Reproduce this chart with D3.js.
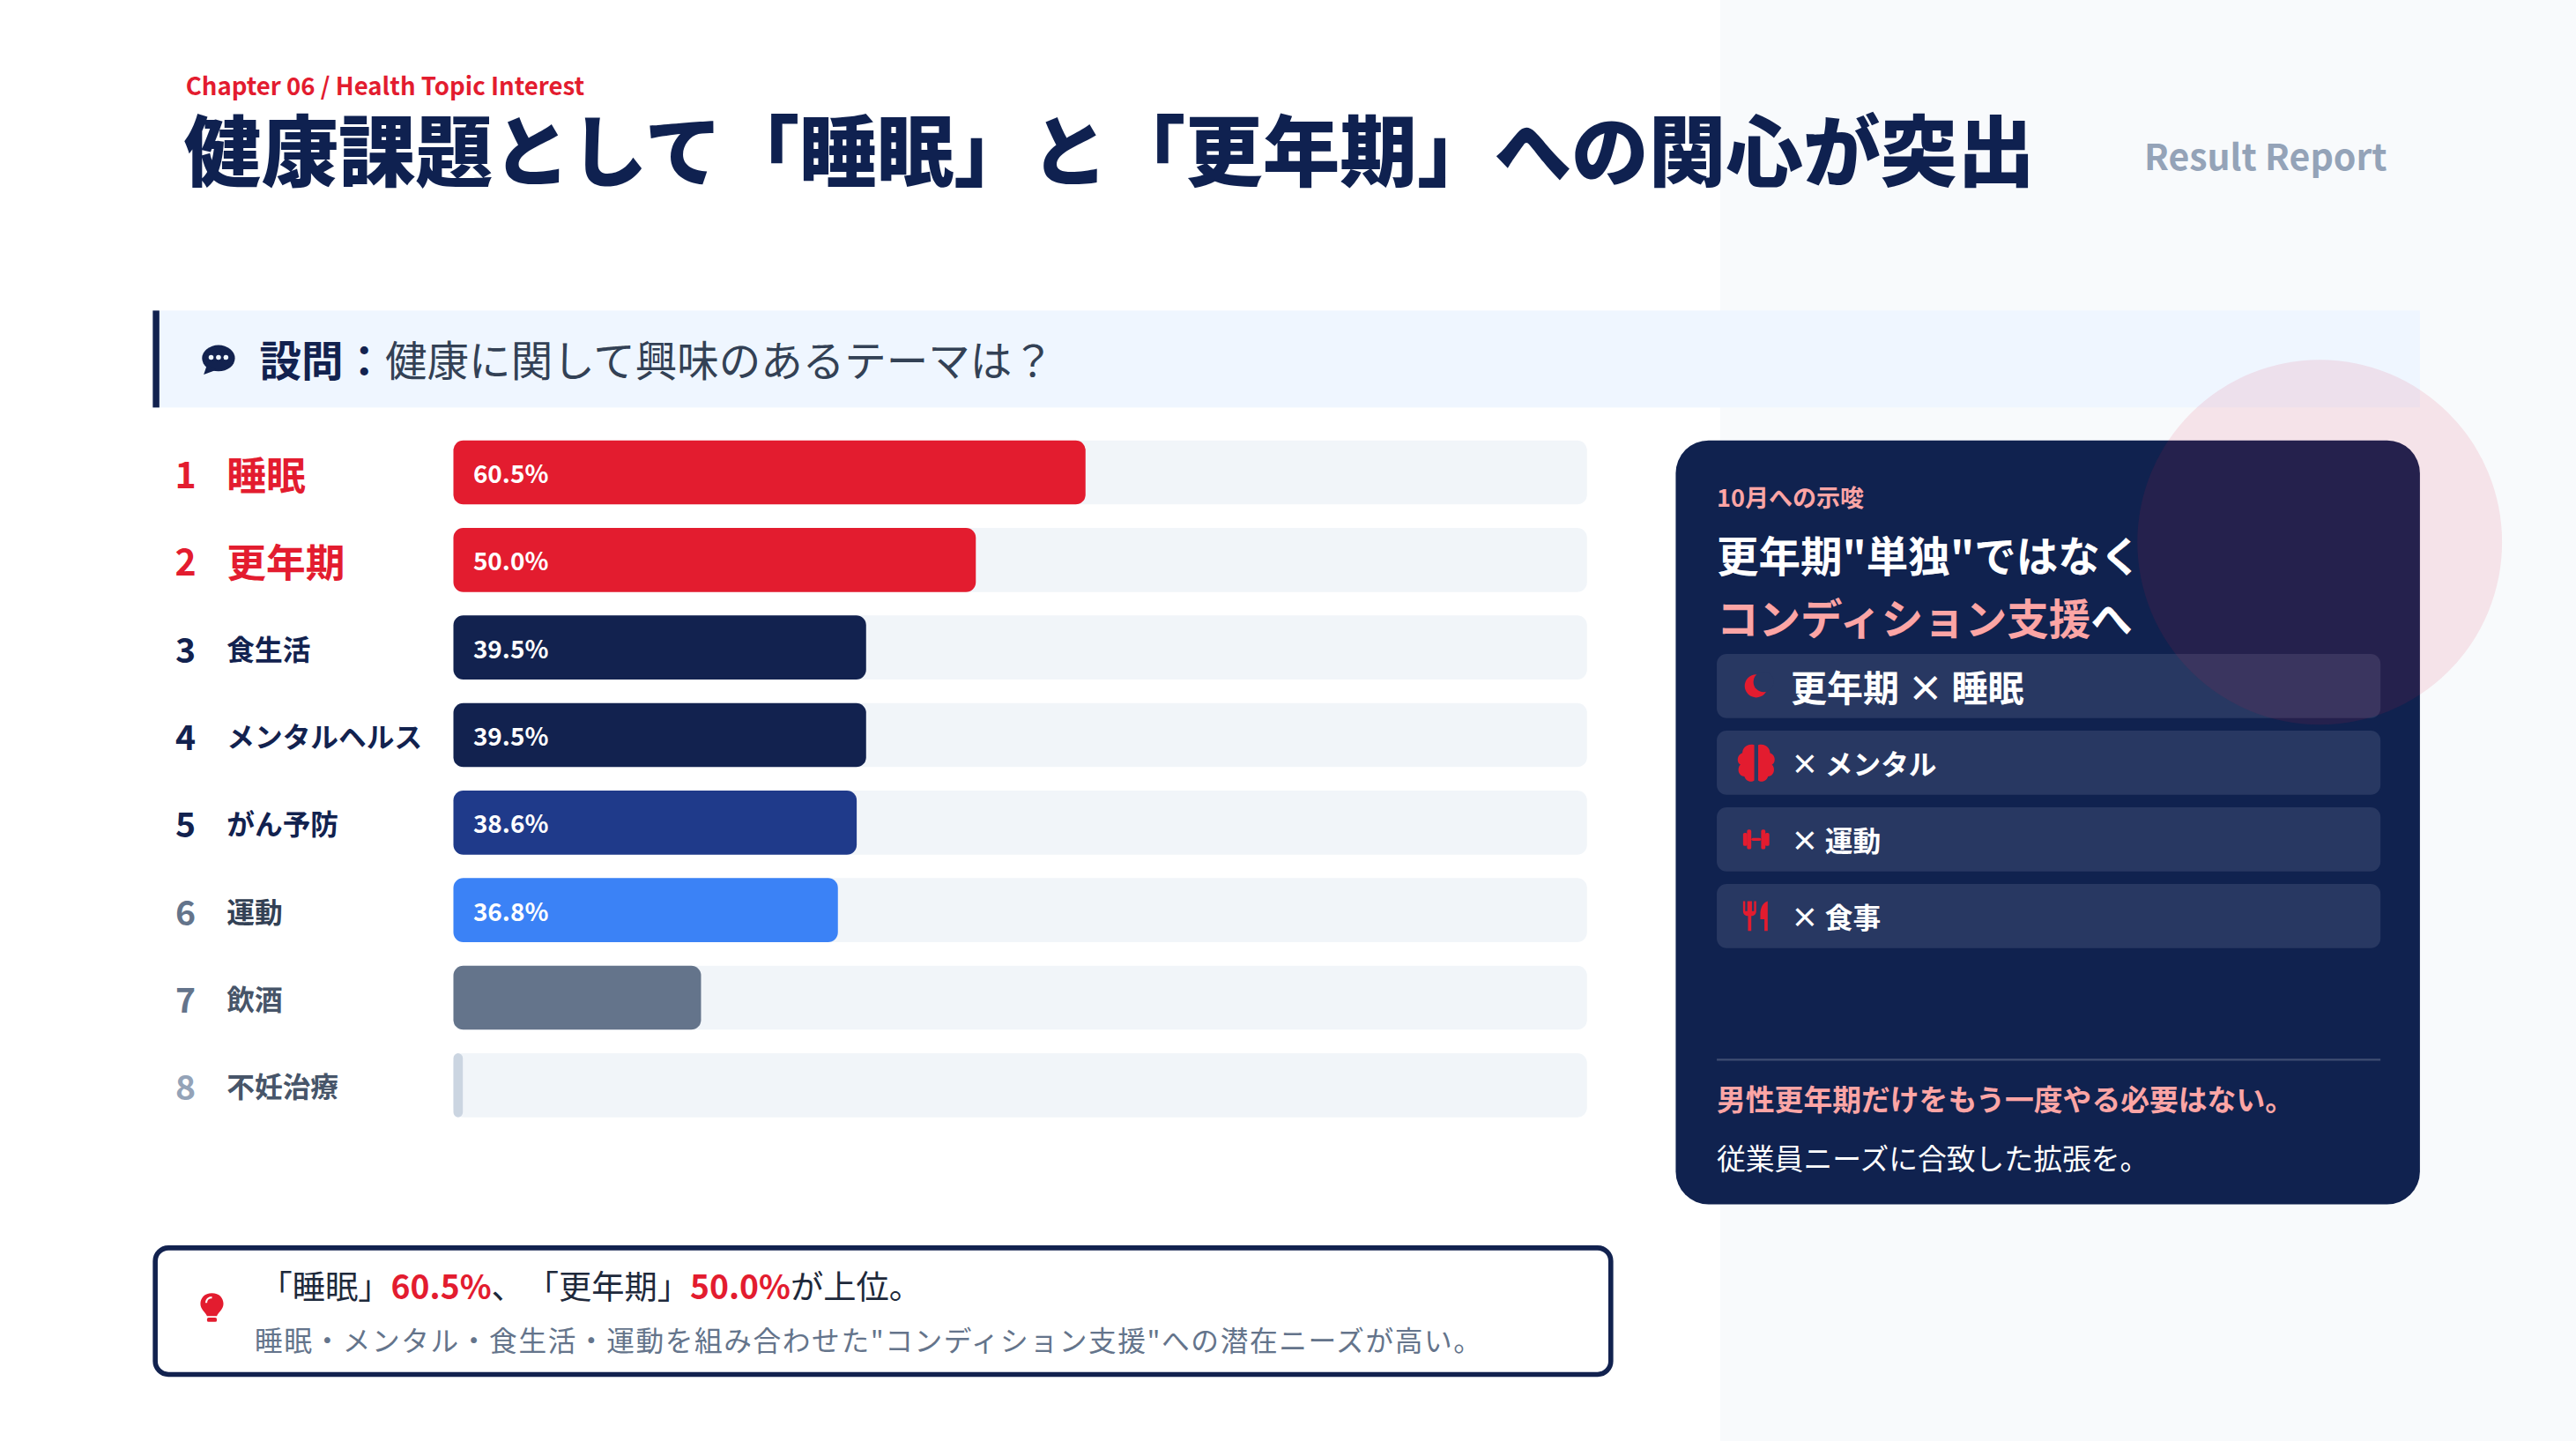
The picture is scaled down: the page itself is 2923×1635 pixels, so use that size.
<!DOCTYPE html>
<html><head><meta charset="utf-8">
<script src="https://cdn.jsdelivr.net/npm/d3@7"></script>
<style>
html,body{margin:0;padding:0;background:#fff;}
svg{display:block;}
text{font-family:"Noto Sans CJK JP","Noto Sans",sans-serif;}
</style></head>
<body>
<div id="chart"></div>
<script>
// ---- data ----
const categories = ["睡眠","更年期","食生活","メンタルヘルス","がん予防","運動","飲酒","不妊治療"];
const values = [60.5, 50.0, 39.5, 39.5, 38.6, 36.8, 23.7, 0.9];
const ranks = [1,2,3,4,5,6,7,8];
const suggestions = ["更年期 × 睡眠","× メンタル","× 運動","× 食事"];
const chapterLabel = "Chapter 06 / Health Topic Interest";
const titleText = "健康課題として「睡眠」と「更年期」への関心が突出";

// ---- styles ----
const barColors = ["#e31c2f","#e31c2f","#12224f","#12224f","#1f3a8a","#3b82f6","#64748b","#cbd5e1"];
const rankColors = ["#e31c2f","#e31c2f","#12224f","#12224f","#12224f","#64748b","#64748b","#94a3b8"];
const labelColors = ["#e31c2f","#e31c2f","#12224f","#12224f","#12224f","#334155","#475569","#475569"];
const NAVY = "#10224f", RED = "#e31c2f", PINK = "#fca5a5";

const W = 1568, H = 877;
const svg = d3.select("#chart").append("svg")
  .attr("width", 2923).attr("height", 1635)
  .attr("viewBox", `0 0 ${W} ${H}`);

// backgrounds
svg.append("rect").attr("x",0).attr("y",0).attr("width",W).attr("height",H).attr("fill","#ffffff");
svg.append("rect").attr("x",1047).attr("y",0).attr("width",W-1047).attr("height",H).attr("fill","#f8fafc");

// header
svg.append("text").attr("x",113).attr("y",51.5).attr("dominant-baseline","central")
  .attr("font-size",14.8).attr("font-weight",700).attr("fill",RED).text(chapterLabel);
svg.append("text").attr("x",112).attr("y",88.5).attr("dominant-baseline","central")
  .attr("font-size",47).attr("font-weight",900).attr("fill","#0f2150").text(titleText);
svg.append("text").attr("x",1453).attr("y",94).attr("dominant-baseline","central").attr("text-anchor","end")
  .attr("font-size",22).attr("font-weight",700).attr("fill","#94a3b8").text("Result Report");

// question banner
svg.append("rect").attr("x",93).attr("y",189).attr("width",1380).attr("height",59).attr("fill","#eff6ff");
svg.append("rect").attr("x",93).attr("y",189).attr("width",4).attr("height",59).attr("fill","#12224f");
const bub = svg.append("g").attr("transform","translate(133,218)");
bub.append("ellipse").attr("rx",10).attr("ry",8).attr("fill","#12224f");
bub.append("path").attr("d","M-7,4 L-9,10 L-1,7 Z").attr("fill","#12224f");
[-4.5,0,4.5].forEach(dx=>bub.append("circle").attr("cx",dx).attr("cy",-0.5).attr("r",1.5).attr("fill","#eff6ff"));
const q = svg.append("text").attr("x",158).attr("y",217.5).attr("dominant-baseline","central").attr("font-size",25.5);
q.append("tspan").attr("font-weight",700).attr("fill","#12224f").text("設問：");
q.append("tspan").attr("font-weight",400).attr("fill","#334155").text("健康に関して興味のあるテーマは？");

// bar chart
const x = d3.scaleLinear().domain([0,108.5]).range([276,966]);
const y = d3.scalePoint().domain(categories).range([287.5,660.5]);
const BH = 39;
const rows = svg.append("g").selectAll("g").data(categories).join("g");
rows.append("rect").attr("x",x(0)).attr("y",d=>y(d)-BH/2).attr("width",x(108.5)-x(0)).attr("height",BH)
  .attr("rx",6).attr("fill","#f1f5f9");
rows.append("rect").attr("x",x(0)).attr("y",d=>y(d)-BH/2).attr("width",(d,i)=>Math.max(x(values[i])-x(0),4))
  .attr("height",BH).attr("rx",(d,i)=>values[i]<2?3:6).attr("fill",(d,i)=>barColors[i]);
rows.append("text").attr("x",288).attr("y",d=>y(d)).attr("dominant-baseline","central")
  .attr("font-size",15).attr("font-weight",700).attr("fill","#fff")
  .text((d,i)=>values[i]>=30?d3.format(".1f")(values[i])+"%":"");
rows.append("text").attr("x",113).attr("y",d=>y(d)).attr("dominant-baseline","central").attr("text-anchor","middle")
  .attr("font-size",(d,i)=>i<2?22:21).attr("font-weight",700).attr("fill",(d,i)=>rankColors[i]).text((d,i)=>ranks[i]);
rows.append("text").attr("x",138).attr("y",d=>y(d)).attr("dominant-baseline","central")
  .attr("font-size",(d,i)=>i<2?24:17).attr("font-weight",700).attr("fill",(d,i)=>labelColors[i]).text(d=>d);

// right panel
svg.append("rect").attr("x",1020).attr("y",268).attr("width",453).attr("height",465).attr("rx",20).attr("fill",NAVY);
svg.append("text").attr("x",1045).attr("y",302).attr("dominant-baseline","central")
  .attr("font-size",14.5).attr("font-weight",700).attr("fill",PINK).text("10月への示唆");
svg.append("text").attr("x",1045).attr("y",337).attr("dominant-baseline","central")
  .attr("font-size",25.5).attr("font-weight",700).attr("fill","#fff").text("更年期\"単独\"ではなく");
const l2 = svg.append("text").attr("x",1045).attr("y",375).attr("dominant-baseline","central")
  .attr("font-size",25.5).attr("font-weight",700);
l2.append("tspan").attr("fill",PINK).text("コンディション支援");
l2.append("tspan").attr("fill","#fff").text("へ");

const iy = d3.scaleBand().domain(d3.range(suggestions.length)).range([398,577]).paddingInner(0.165).paddingOuter(0);
const items = svg.append("g").selectAll("g").data(suggestions).join("g")
  .attr("transform",(d,i)=>`translate(1045,${iy(i)})`);
items.append("rect").attr("width",404).attr("height",iy.bandwidth()).attr("rx",6).attr("fill","#283862");
items.append("text").attr("x",45).attr("y",iy.bandwidth()/2).attr("dominant-baseline","central")
  .attr("font-size",(d,i)=>i===0?22:17).attr("font-weight",700).attr("fill","#fff").text(d=>d);
const cy = iy.bandwidth()/2;
// icons
const ic0 = items.filter((d,i)=>i===0).append("g").attr("transform",`translate(24,${cy})`);
ic0.append("circle").attr("r",7).attr("fill",RED);
ic0.append("circle").attr("cx",4.5).attr("cy",-2.5).attr("r",6.2).attr("fill","#283862");
const ic1 = items.filter((d,i)=>i===1).append("g").attr("transform",`translate(24,${cy}) scale(1.2)`);
ic1.append("path").attr("d","M-1,-9 C-5,-10 -7,-7 -7,-5 C-10,-4 -10,0 -8,1 C-10,3 -9,7 -6,7 C-5,10 -2,10 -1,9 Z").attr("fill",RED);
ic1.append("path").attr("d","M1,-9 C5,-10 7,-7 7,-5 C10,-4 10,0 8,1 C10,3 9,7 6,7 C5,10 2,10 1,9 Z").attr("fill",RED);
const ic2 = items.filter((d,i)=>i===2).append("g").attr("transform",`translate(24,${cy})`);
[[-8,-4,2.6,8],[-5.6,-6,2.6,12],[3,-6,2.6,12],[5.4,-4,2.6,8],[-3,-0.9,6,1.8]].forEach(r=>
  ic2.append("rect").attr("x",r[0]).attr("y",r[1]).attr("width",r[2]).attr("height",r[3]).attr("rx",1).attr("fill",RED));
const ic3 = items.filter((d,i)=>i===3).append("g").attr("transform",`translate(24,${cy})`);
ic3.append("path").attr("d","M-8,-9 L-8,-3 C-8,-1 -6.5,0 -5,0 L-5,9 L-3,9 L-3,0 C-1.5,0 0,-1 0,-3 L0,-9 L-1.3,-9 L-1.3,-3 L-2.6,-3 L-2.6,-9 L-5.4,-9 L-5.4,-3 L-6.7,-3 L-6.7,-9 Z").attr("fill",RED);
ic3.append("path").attr("d","M7,-9 C4,-8 2.5,-5 2.5,-1 L2.5,2 L5,2 L5,9 L7,9 Z").attr("fill",RED);

svg.append("line").attr("x1",1045).attr("x2",1449).attr("y1",645).attr("y2",645)
  .attr("stroke","#ffffff").attr("stroke-opacity",0.2).attr("stroke-width",1.2);
svg.append("text").attr("x",1045).attr("y",668).attr("dominant-baseline","central")
  .attr("font-size",17.6).attr("font-weight",700).attr("fill",PINK).text("男性更年期だけをもう一度やる必要はない。");
svg.append("text").attr("x",1045).attr("y",704).attr("dominant-baseline","central")
  .attr("font-size",17.6).attr("font-weight",400).attr("fill","#fff").text("従業員ニーズに合致した拡張を。");

// decorative circle
svg.append("circle").attr("cx",1412).attr("cy",330).attr("r",111).attr("fill","#e11d48").attr("fill-opacity",0.1);

// bottom callout
svg.append("rect").attr("x",94.5).attr("y",759.5).attr("width",886).attr("height",77).attr("rx",8)
  .attr("fill","#fff").attr("stroke","#12224f").attr("stroke-width",3);
const bulb = svg.append("g").attr("transform","translate(129,795)");
bulb.append("path").attr("d","M0,-8 C4.5,-8 7,-5 7,-1.5 C7,2 4,3.5 3,6 L-3,6 C-4,3.5 -7,2 -7,-1.5 C-7,-5 -4.5,-8 0,-8 Z").attr("fill",RED);
bulb.append("rect").attr("x",-3).attr("y",7).attr("width",6).attr("height",2.5).attr("rx",1).attr("fill",RED);
bulb.append("path").attr("d","M-3.5,-2 C-3.5,-4 -2,-5.3 0,-5.3").attr("stroke","#fff").attr("stroke-width",1.2).attr("fill","none");
const b1 = svg.append("text").attr("x",158).attr("y",782).attr("dominant-baseline","central").attr("font-size",20).attr("fill","#1e293b");
b1.append("tspan").text("「睡眠」");
b1.append("tspan").attr("fill",RED).attr("font-weight",700).text(d3.format(".1f")(values[0])+"%");
b1.append("tspan").text("、");
b1.append("tspan").attr("dx",11).text("「更年期」");
b1.append("tspan").attr("fill",RED).attr("font-weight",700).text(d3.format(".1f")(values[1])+"%");
b1.append("tspan").text("が上位。");
svg.append("text").attr("x",155).attr("y",815).attr("dominant-baseline","central").attr("font-size",17)
  .attr("letter-spacing",0.85)
  .attr("fill","#64748b").text("睡眠・メンタル・食生活・運動を組み合わせた\"コンディション支援\"への潜在ニーズが高い。");
</script>
</body></html>
